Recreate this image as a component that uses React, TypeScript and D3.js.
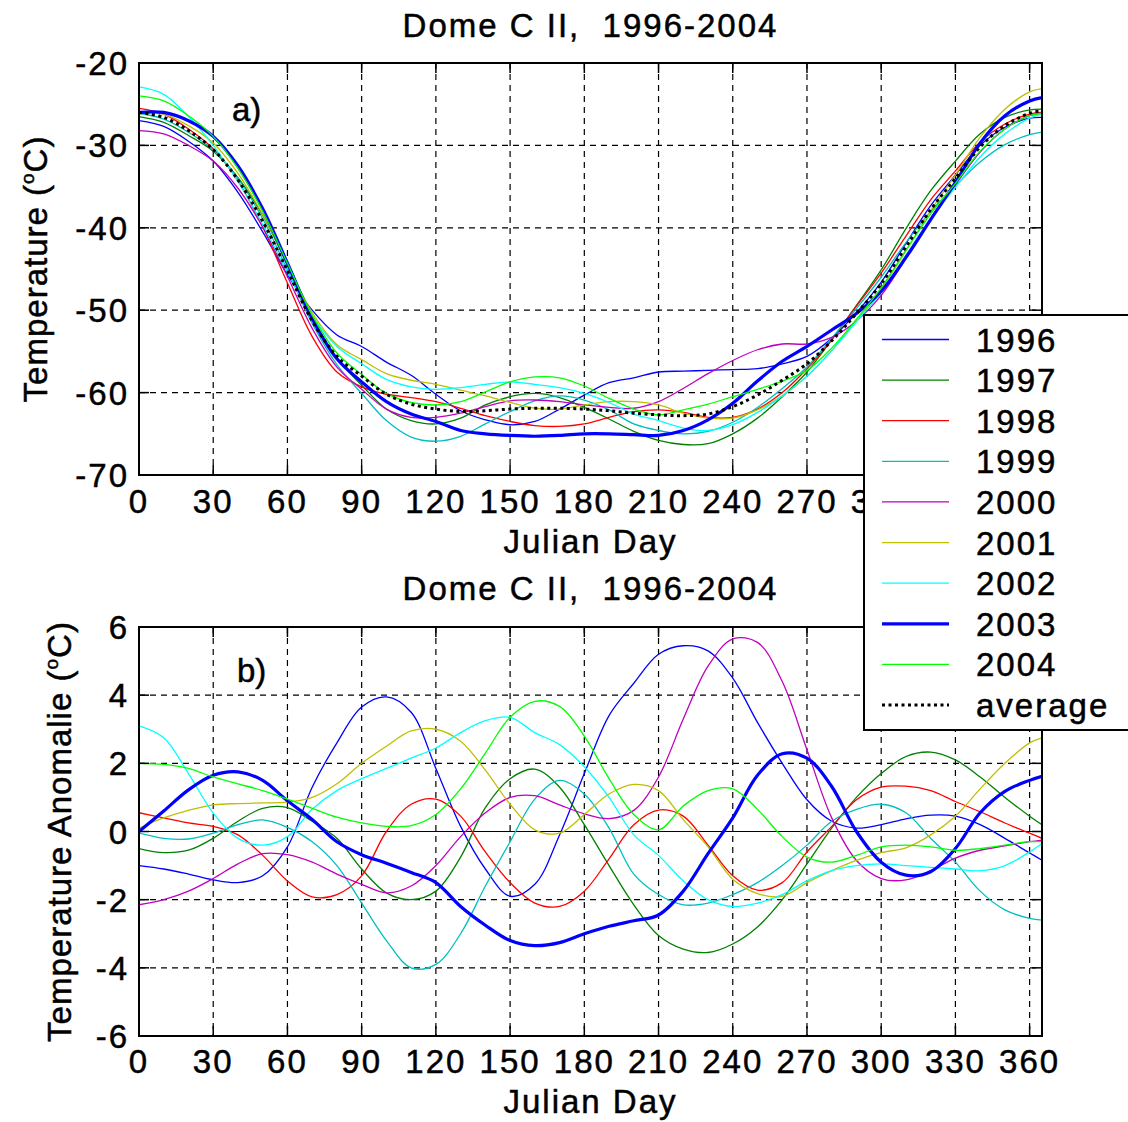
import React from "react";
import * as d3 from "d3";

const days = [0,10,20,30,40,50,60,70,80,90,100,110,120,130,140,150,160,170,180,190,200,210,220,230,240,250,260,270,280,290,300,310,320,330,340,350,360,365];

const xTicks = [0,30,60,90,120,150,180,210,240,270,300,330,360];
const yTicksTop = [-70,-60,-50,-40,-30,-20];
const yTicksBot = [-6,-4,-2,0,2,4,6];

const years = ["1996","1997","1998","1999","2000","2001","2002","2003","2004"];
const yearColors = ["#0000ff","#008000","#ff0000","#00bfbf","#bf00bf","#bfbf00","#00ffff","#0000ff","#00ff00"];
const yearWidths = [1.3,1.3,1.3,1.3,1.3,1.3,1.3,3.2,1.3];

// Panel a) temperatures (deg C)
const tempAvg = [-26.0,-26.6,-28.2,-30.5,-34.2,-39.2,-45.2,-51.3,-55.6,-58.0,-60.2,-61.4,-62.0,-62.3,-62.2,-62.0,-61.9,-61.9,-62.0,-62.2,-62.5,-62.7,-62.8,-62.6,-61.7,-60.3,-58.5,-56.5,-53.7,-50.4,-46.8,-42.3,-37.8,-34.0,-30.2,-27.6,-26.1,-25.8];
const temp1996 = [-27.0,-27.7,-29.5,-31.9,-35.7,-40.5,-45.7,-50.0,-53.0,-54.4,-56.3,-57.9,-60.2,-62.2,-63.3,-63.9,-63.5,-62.0,-60.3,-58.8,-58.2,-57.5,-57.4,-57.3,-57.2,-57.1,-56.5,-55.6,-53.4,-50.3,-46.6,-41.9,-37.3,-33.6,-30.0,-27.8,-26.7,-26.6];
const temp1997 = [-26.5,-27.2,-28.8,-30.7,-33.9,-38.5,-44.5,-51.0,-55.8,-59.1,-62.0,-63.4,-63.8,-63.1,-61.5,-60.5,-60.1,-60.6,-61.8,-63.2,-64.7,-65.8,-66.3,-66.2,-65.0,-63.1,-60.5,-57.5,-53.6,-49.4,-45.1,-40.1,-35.5,-31.9,-28.6,-26.6,-25.7,-25.6];
const temp1998 = [-25.5,-26.2,-28.0,-30.4,-34.3,-39.9,-46.7,-53.2,-57.5,-59.3,-60.2,-60.6,-61.1,-61.9,-62.8,-63.5,-64.0,-64.1,-63.8,-63.0,-62.3,-62.1,-62.4,-63.0,-63.0,-62.0,-60.0,-57.1,-53.6,-49.5,-45.5,-41.0,-36.6,-33.1,-29.6,-27.4,-26.2,-26.0];
const temp1999 = [-26.1,-26.8,-28.4,-30.6,-34.0,-38.9,-45.1,-51.6,-56.6,-60.1,-63.4,-65.4,-65.9,-65.3,-63.8,-62.3,-61.0,-60.4,-60.9,-62.1,-63.8,-64.6,-65.0,-64.7,-63.6,-61.8,-59.5,-56.9,-53.4,-49.8,-46.0,-41.8,-38.0,-34.9,-32.0,-29.9,-28.7,-28.4];
const temp2000 = [-28.2,-28.6,-30.0,-31.9,-35.2,-39.9,-45.9,-52.2,-56.9,-59.6,-62.0,-63.0,-63.0,-62.5,-61.7,-61.0,-60.9,-61.1,-61.5,-61.8,-61.9,-61.1,-59.5,-57.7,-56.1,-54.8,-54.1,-54.1,-53.3,-51.3,-48.2,-43.7,-39.0,-34.8,-30.8,-28.0,-26.4,-26.1];
const temp2001 = [-25.9,-26.2,-27.6,-29.7,-33.4,-38.4,-44.3,-50.3,-54.2,-56.0,-57.7,-58.5,-59.0,-59.7,-60.4,-61.2,-61.9,-62.0,-61.5,-61.1,-61.1,-61.5,-62.5,-63.1,-63.1,-62.1,-60.4,-58.0,-54.9,-51.3,-47.4,-42.8,-37.9,-33.6,-29.0,-25.6,-23.5,-23.1];
const temp2002 = [-22.9,-23.8,-26.5,-30.0,-34.4,-39.6,-45.4,-50.7,-54.4,-56.5,-58.4,-59.3,-59.6,-59.4,-59.0,-58.7,-59.0,-59.4,-60.1,-61.2,-62.6,-63.4,-64.3,-64.6,-63.9,-62.4,-60.4,-58.0,-54.9,-51.4,-47.8,-43.3,-38.9,-35.1,-31.4,-28.6,-26.7,-26.2];
const temp2003 = [-26.0,-26.0,-27.0,-28.9,-32.5,-37.7,-44.3,-51.0,-55.9,-58.7,-61.1,-62.6,-63.5,-64.6,-65.0,-65.2,-65.3,-65.2,-65.0,-65.0,-65.1,-65.2,-64.6,-63.3,-61.3,-58.6,-56.2,-54.4,-52.4,-50.4,-47.7,-43.6,-39.0,-34.5,-29.7,-26.4,-24.6,-24.2];
const temp2004 = [-24.0,-24.6,-26.4,-28.9,-32.8,-38.0,-44.3,-50.6,-55.2,-57.8,-60.1,-61.2,-61.5,-61.1,-59.9,-58.7,-58.1,-58.2,-59.2,-60.7,-62.0,-62.7,-62.1,-61.4,-60.5,-59.6,-58.6,-57.3,-54.6,-51.1,-47.3,-42.7,-38.3,-34.6,-30.7,-28.0,-26.4,-26.1];

// Panel b) anomalies (deg C)
const anom1996 = [-1.0,-1.1,-1.25,-1.42,-1.5,-1.3,-0.45,1.3,2.6,3.65,3.95,3.5,1.85,0.15,-1.1,-1.9,-1.55,-0.1,1.7,3.4,4.35,5.2,5.45,5.3,4.5,3.2,2.0,0.93,0.3,0.1,0.2,0.37,0.48,0.45,0.2,-0.2,-0.63,-0.84];
const anom1997 = [-0.5,-0.62,-0.55,-0.2,0.3,0.68,0.7,0.3,-0.2,-1.1,-1.8,-2.0,-1.75,-0.75,0.7,1.55,1.83,1.3,0.2,-1.0,-2.15,-3.05,-3.45,-3.55,-3.3,-2.8,-2.0,-0.95,0.1,1.0,1.7,2.2,2.33,2.1,1.6,1.0,0.45,0.2];
const anom1998 = [0.55,0.4,0.25,0.15,-0.1,-0.7,-1.45,-1.92,-1.85,-1.3,0.0,0.8,0.95,0.45,-0.6,-1.5,-2.1,-2.2,-1.75,-0.8,0.2,0.63,0.45,-0.4,-1.3,-1.72,-1.5,-0.6,0.15,0.93,1.3,1.33,1.2,0.88,0.58,0.25,-0.05,-0.2];
const anom1999 = [-0.05,-0.2,-0.22,-0.05,0.2,0.34,0.12,-0.3,-1.0,-2.1,-3.2,-4.0,-3.9,-3.0,-1.6,-0.3,0.95,1.5,1.1,0.1,-1.25,-1.85,-2.15,-2.1,-1.85,-1.5,-1.0,-0.4,0.3,0.65,0.8,0.55,-0.2,-0.9,-1.75,-2.3,-2.55,-2.6];
const anom2000 = [-2.15,-2.0,-1.75,-1.38,-0.95,-0.65,-0.68,-0.9,-1.25,-1.55,-1.8,-1.6,-1.0,-0.15,0.55,1.0,1.05,0.78,0.52,0.38,0.62,1.6,3.3,4.85,5.65,5.55,4.4,2.4,0.4,-0.85,-1.38,-1.42,-1.15,-0.78,-0.55,-0.42,-0.3,-0.25];
const anom2001 = [0.1,0.4,0.62,0.78,0.82,0.84,0.86,1.0,1.4,2.0,2.5,2.95,3.0,2.65,1.8,0.8,0.05,-0.05,0.5,1.1,1.38,1.2,0.35,-0.45,-1.4,-1.82,-1.9,-1.5,-1.15,-0.85,-0.62,-0.48,-0.1,0.45,1.25,2.0,2.6,2.75];
const anom2002 = [3.1,2.75,1.7,0.54,-0.2,-0.4,-0.15,0.65,1.2,1.55,1.85,2.15,2.45,2.9,3.25,3.35,2.9,2.55,1.9,1.0,-0.1,-0.7,-1.45,-2.0,-2.2,-2.1,-1.85,-1.45,-1.15,-1.0,-0.95,-1.0,-1.05,-1.1,-1.15,-1.0,-0.6,-0.35];
const anom2003 = [0.0,0.6,1.22,1.65,1.75,1.5,0.9,0.35,-0.3,-0.68,-0.93,-1.2,-1.5,-2.2,-2.75,-3.2,-3.35,-3.26,-3.0,-2.78,-2.62,-2.45,-1.75,-0.65,0.4,1.65,2.28,2.15,1.32,0.0,-0.9,-1.28,-1.18,-0.5,0.55,1.18,1.5,1.62];
const anom2004 = [2.0,1.97,1.85,1.6,1.4,1.2,0.95,0.68,0.42,0.25,0.15,0.17,0.5,1.25,2.3,3.35,3.82,3.67,2.8,1.55,0.5,0.05,0.75,1.2,1.25,0.65,-0.15,-0.75,-0.9,-0.7,-0.45,-0.4,-0.45,-0.55,-0.5,-0.4,-0.3,-0.3];

const tempSeries = [temp1996,temp1997,temp1998,temp1999,temp2000,temp2001,temp2002,temp2003,temp2004];
const anomSeries = [anom1996,anom1997,anom1998,anom1999,anom2000,anom2001,anom2002,anom2003,anom2004];

const FONT = "'Liberation Sans', Arial, Helvetica, sans-serif";
const FS = 33;
const LS = 2;
const TXT = { fontFamily: FONT, fontSize: FS, letterSpacing: LS, stroke: "#000", strokeWidth: 0.5 } as any;

const x = d3.scaleLinear().domain([0, 365]).range([139, 1042]);
const yTop = d3.scaleLinear().domain([-70, -20]).range([475, 63]);
const yBot = d3.scaleLinear().domain([-6, 6]).range([1036, 627]);

const LEG_LEFT = 864;

function Panel({ y, yTicks, series, avg, label, titleY, tickLabelY, xLabelY, yLabel, yLabelX, clipId, zeroLine, hideUnderLegend }: any) {
  const [y0, y1] = y.range();
  const top = y1, bottom = y0;
  const left = x.range()[0], right = x.range()[1];
  const line = (vals: number[]) =>
    d3.line<number>()
      .x((_, i) => x(days[i]))
      .y((v) => y(v))
      .curve(d3.curveCatmullRom.alpha(0.5))(vals) || "";
  const cy = (top + bottom) / 2;
  return (
    <g>
      <defs>
        <clipPath id={clipId}>
          <rect x={left} y={top} width={right - left} height={bottom - top} />
        </clipPath>
      </defs>
      <rect x={left} y={top} width={right - left} height={bottom - top} fill="#fff" />
      {xTicks.filter((t) => t > 0).map((t) => (
        <line key={"gx" + t} x1={x(t)} x2={x(t)} y1={top} y2={bottom} stroke="#000" strokeWidth={1.2} strokeDasharray="6,5" />
      ))}
      {yTicks.filter((t: number) => y(t) > top + 1 && y(t) < bottom - 1).map((t: number) => (
        <line key={"gy" + t} x1={left} x2={right} y1={y(t)} y2={y(t)} stroke="#000" strokeWidth={1.2} strokeDasharray="6,5" />
      ))}
      {zeroLine && <line x1={left} x2={right} y1={y(0)} y2={y(0)} stroke="#000" strokeWidth={1.2} />}
      <g clipPath={`url(#${clipId})`}>
        {series.map((s: number[], i: number) => (
          <path key={i} d={line(s)} fill="none" stroke={yearColors[i]} strokeWidth={yearWidths[i]} strokeLinejoin="round" />
        ))}
        {avg && <path d={line(avg)} fill="none" stroke="#000" strokeWidth={3} strokeDasharray="3,3.5" />}
      </g>
      {xTicks.map((t) => (
        <g key={"tx" + t}>
          <line x1={x(t)} x2={x(t)} y1={bottom} y2={bottom - 10} stroke="#000" strokeWidth={1.5} />
          <line x1={x(t)} x2={x(t)} y1={top} y2={top + 10} stroke="#000" strokeWidth={1.5} />
          {!(hideUnderLegend && x(t) - 25 > LEG_LEFT) && (
            <text x={x(t)} y={tickLabelY} textAnchor="middle" {...TXT}>{t}</text>
          )}
        </g>
      ))}
      {yTicks.map((t: number) => (
        <g key={"ty" + t}>
          <line x1={left} x2={left + 10} y1={y(t)} y2={y(t)} stroke="#000" strokeWidth={1.5} />
          <line x1={right} x2={right - 10} y1={y(t)} y2={y(t)} stroke="#000" strokeWidth={1.5} />
          <text x={129} y={y(t) + 12} textAnchor="end" {...TXT}>{t}</text>
        </g>
      ))}
      <rect x={left} y={top} width={right - left} height={bottom - top} fill="none" stroke="#000" strokeWidth={2} />
      <text x={(left + right) / 2} y={titleY} textAnchor="middle" {...TXT} xmlSpace="preserve">{"Dome C II,  1996-2004"}</text>
      <text x={(left + right) / 2} y={xLabelY} textAnchor="middle" {...TXT}>Julian Day</text>
      <text x={label.x} y={label.y} {...TXT} letterSpacing={0}>{label.text}</text>
      <text transform={`translate(${yLabelX},${cy}) rotate(-90)`} textAnchor="middle" {...TXT} letterSpacing={1}>
        {yLabel}
        <tspan fontSize={19} dy={-13}>o</tspan>
        <tspan dy={13}>C)</tspan>
      </text>
    </g>
  );
}

export default function App() {
  const legendItems = years.map((yy, i) => ({ label: yy, color: yearColors[i], width: yearWidths[i], dash: undefined as any }));
  legendItems.push({ label: "average", color: "#000", width: 3, dash: "3,3.5" });
  const legTop = 315, legBottom = 730;
  const rowH = (705 - 339.5) / 9;
  return (
    <svg width={1128} height={1122} style={{ position: "absolute", left: 0, top: 0, background: "#fff" }}>
      <rect x={0} y={0} width={1128} height={1122} fill="#fff" />
      <Panel y={yTop} yTicks={yTicksTop} series={tempSeries} avg={tempAvg}
        label={{ x: 232, y: 121, text: "a)" }} titleY={37} tickLabelY={513} xLabelY={553}
        yLabel="Temperature (" yLabelX={47} clipId="clipA" zeroLine={false} hideUnderLegend={true} />
      <Panel y={yBot} yTicks={yTicksBot} series={anomSeries} avg={null}
        label={{ x: 237, y: 682, text: "b)" }} titleY={600} tickLabelY={1073} xLabelY={1113}
        yLabel="Temperature Anomalie (" yLabelX={71} clipId="clipB" zeroLine={true} hideUnderLegend={false} />
      <g>
        <rect x={LEG_LEFT} y={legTop} width={300} height={legBottom - legTop} fill="#fff" stroke="#000" strokeWidth={2} />
        {legendItems.map((it, i) => {
          const cy = 339.5 + i * rowH;
          return (
            <g key={it.label}>
              <line x1={882} x2={949} y1={cy} y2={cy} stroke={it.color} strokeWidth={it.width} strokeDasharray={it.dash} />
              <text x={976} y={cy + 12} {...TXT}>{it.label}</text>
            </g>
          );
        })}
      </g>
    </svg>
  );
}
